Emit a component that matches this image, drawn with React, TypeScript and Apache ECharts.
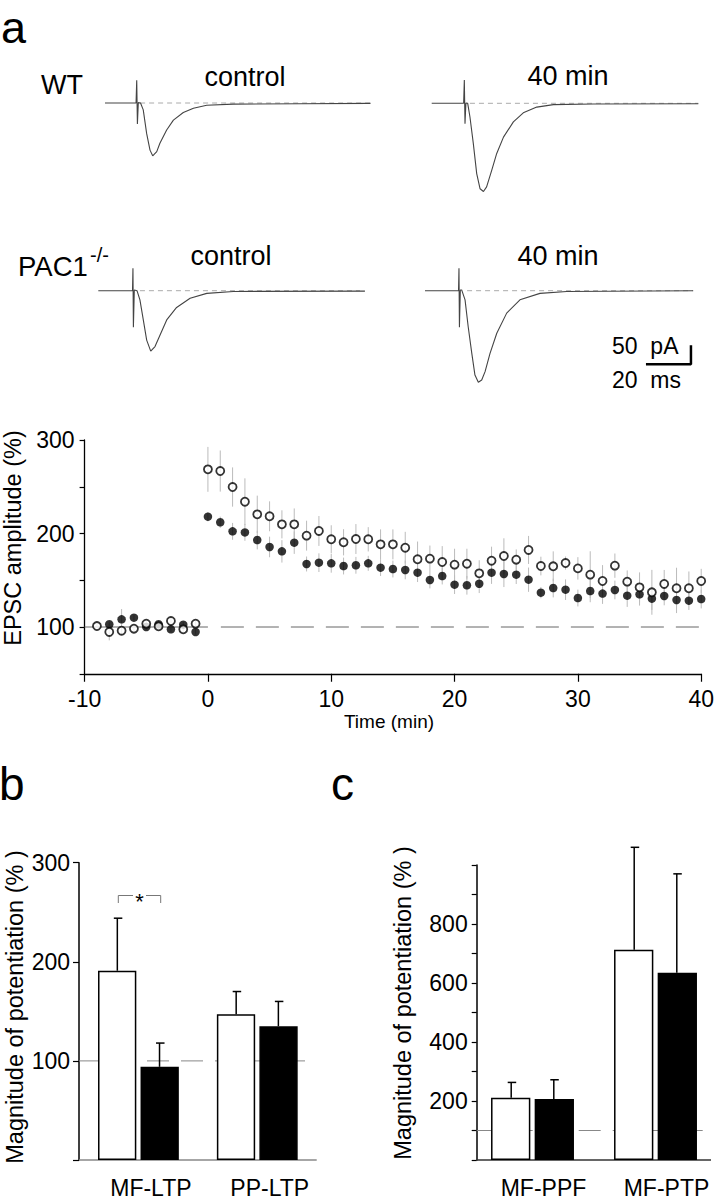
import React, { useEffect, useRef } from "react";
import * as echarts from "echarts";

// ---------- Panel a: example EPSC traces (time in ms, current in pA) ----------
const traceWtControl = [
  [0, 0], [13.8, 0], [14.1, 60], [14.4, -55], [14.8, 1], [15.8, 0], [17.0, -18], [18.5, -80],
  [20, -124], [21.2, -139], [23, -128], [24.4, -106], [27.4, -71], [30.4, -45], [34.8, -25],
  [39.3, -14], [45.2, -6], [57, -3], [86.7, -2], [118, -1],
];
const traceWt40 = [
  [0, 0], [14.2, 0], [14.5, 61], [14.8, -54], [15.2, 1], [16.0, 0], [17.0, -36], [18.5, -106],
  [20, -185], [21.5, -225], [23, -232], [24.4, -220], [26.7, -176], [28.9, -132], [31.9, -89],
  [36.3, -49], [40.7, -25], [46.7, -10], [54.1, -3.5], [71.9, -2], [118.5, -1],
];
const tracePacControl = [
  [0, 0], [15.2, 0], [15.4, 59], [15.6, -96], [16.0, 2], [17.2, 0], [18.5, -24], [20, -77],
  [21.5, -130], [23.3, -159], [25.2, -147], [27.4, -117], [30.4, -77], [34.8, -44], [40.8, -20],
  [48.2, -7], [60, -2], [118.5, -1],
];
const tracePac40 = [
  [0, 0], [14.9, 0], [15.1, 59], [15.3, -96], [15.7, 2], [16.3, 2], [17.8, -24], [19.2, -95],
  [20.8, -165], [22.2, -222], [23.7, -241], [25.2, -235], [26.7, -213], [28.9, -165], [31.9, -112],
  [36.3, -59], [42.2, -24], [51.1, -7], [63, -2], [119.2, 0],
];
const baselineWtControl = [[15.6, 0], [117.8, 0]];
const baselineWt40 = [[17, 0], [118.5, 0]];
const baselinePacControl = [[18.5, 0], [116.3, 0]];
const baselinePac40 = [[18.7, 0], [119, 0]];
const scaleBar = [[98.2, -193.7], [118.2, -193.7], [118.2, -143.7]]; // 20 ms, 50 pA

// ---------- Panel a: time course (min, % EPSC amplitude) ----------
const wtPreTimes = [-9, -8, -7, -6, -5, -4, -3, -2, -1];
const wtPre = [101, 94.7, 96, 98.2, 103.6, 100.7, 106.4, 97.5, 103.6];
const wtPreErr = [2, 9, 4, 3, 3, 3, 3, 3, 3];
const koPreTimes = [-8, -7, -6, -5, -4, -3, -2, -1];
const koPre = [102.9, 108.2, 110, 100, 102.9, 97.5, 102.5, 94.7];
const koPreErr = [3, 11, 3, 3, 3, 3, 3, 3];
const postTimes = Array.from({ length: 41 }, (_, i) => i);
const wtPost = [
  268.6, 266.8, 249.7, 234, 220.5, 218.4, 209.8, 209.8, 197.7, 202.7,
  193.8, 190.6, 194.1, 193.8, 188.4, 188.4, 184.8, 172.4, 173.1, 169.5,
  166.7, 167.7, 157.4, 170.9, 175.9, 172, 182.4, 165.2, 164.9, 168.4,
  162.7, 156, 149.2, 165.6, 148.5, 142.4, 137.1, 146, 141.4, 141.4, 149.2,
];
const wtPostErr = [
  24, 22, 21, 25, 20, 16, 15, 17, 16, 16,
  15, 14, 16, 13, 16, 16, 17, 19, 14, 17,
  17, 16, 14, 15, 19, 11, 15, 10, 16, 7,
  12, 25, 17, 13, 12, 16, 24, 15, 22, 18, 13,
];
const koPost = [
  218, 212, 202.3, 201.2, 193, 185.6, 180.9, 190.2, 167.4, 168.8,
  168.1, 165.2, 166, 168.1, 163.5, 162, 161, 158.1, 150.3, 154.5,
  145.3, 144.6, 146.3, 158.1, 156.7, 156, 150.6, 136.7, 141.7, 139.9,
  131, 138.5, 135.7, 139.6, 133.5, 134.9, 130.3, 133.2, 128.9, 128.2, 129.9,
];
const koPostErr = [
  5, 6, 9, 9, 10, 11, 12, 12, 8, 10,
  10, 9, 9, 8, 9, 9, 10, 10, 9, 9,
  10, 10, 10, 12, 14, 10, 13, 6, 10, 11,
  9, 12, 11, 10, 12, 12, 12, 10, 14, 10, 10,
];
const timeBaselineSolid = [[-10, 100], [0, 100]];
const timeBaselineDashed = [[1.05, 100], [40, 100]];

// ---------- Panel b ----------
const bCategories = ["MF-LTP", "PP-LTP"];
const bWt = [191, 147];
const bWtSem = [53, 23];
const bKo = [94, 135];
const bKoSem = [24, 25];

// ---------- Panel c ----------
const cCategories = ["MF-PPF", "MF-PTP"];
const cWt = [211, 713];
const cWtSem = [52, 347];
const cKo = [207, 635];
const cKoSem = [65, 335];

const FONT = "Liberation Sans";

// trace layout
const PX_MS = 2.25;
const PX_PA = 0.38;
const T_MAX = 120;
const PA_MIN = -260;
const PA_MAX = 80;
const traceOrigins = [
  [105, 103],
  [431.7, 103.3],
  [98.3, 290.7],
  [425, 290.7],
];

function txt(text: string, x: number, y: number, fontSize: number, extra: any = {}) {
  return {
    type: "text",
    x,
    y,
    rotation: extra.rotation || 0,
    style: {
      text,
      fontSize,
      fontFamily: FONT,
      fill: "#000",
      align: extra.align || "left",
      verticalAlign: "middle",
    },
  };
}

function makeOption() {
  const grids: any[] = [];
  const xAxes: any[] = [];
  const yAxes: any[] = [];
  const series: any[] = [];

  const traces = [traceWtControl, traceWt40, tracePacControl, tracePac40];
  const baselines = [baselineWtControl, baselineWt40, baselinePacControl, baselinePac40];
  traceOrigins.forEach(([x0, y0], i) => {
    grids.push({
      left: x0,
      top: y0 - PA_MAX * PX_PA,
      width: T_MAX * PX_MS,
      height: (PA_MAX - PA_MIN) * PX_PA,
    });
    xAxes.push({ type: "value", gridIndex: i, min: 0, max: T_MAX, show: false });
    yAxes.push({ type: "value", gridIndex: i, min: PA_MIN, max: PA_MAX, show: false });
    series.push({
      type: "line",
      xAxisIndex: i,
      yAxisIndex: i,
      data: baselines[i],
      showSymbol: false,
      symbol: "none",
      lineStyle: { color: "#aaa", width: 1, type: [5, 4] },
      z: 1,
    });
    series.push({
      type: "line",
      xAxisIndex: i,
      yAxisIndex: i,
      data: traces[i],
      showSymbol: false,
      symbol: "none",
      lineStyle: { color: "#444", width: 1.1 },
      z: 2,
    });
  });
  series.push({
    type: "line",
    xAxisIndex: 3,
    yAxisIndex: 3,
    data: scaleBar,
    symbol: "none",
    lineStyle: { color: "#000", width: 2.5 },
    z: 3,
  });

  // Time course grid (index 4)
  grids.push({ left: 84.6, top: 440, width: 623.4, height: 233.75 });
  xAxes.push({
    type: "value",
    gridIndex: 4,
    min: -10,
    max: 40,
    interval: 10,
    axisLine: { onZero: false, lineStyle: { color: "#000", width: 1.3 } },
    axisTick: { show: true, inside: false, length: 8, lineStyle: { color: "#000", width: 1.2 } },
    axisLabel: { color: "#000", fontSize: 23, fontFamily: FONT, margin: 14 },
    splitLine: { show: false },
  });
  yAxes.push({
    type: "value",
    gridIndex: 4,
    min: 50,
    max: 300,
    interval: 50,
    axisLine: { show: true, onZero: false, lineStyle: { color: "#000", width: 1.3 } },
    axisTick: { show: true, inside: false, length: 5, lineStyle: { color: "#000", width: 1.2 } },
    axisLabel: {
      color: "#000",
      fontSize: 23,
      fontFamily: FONT,
      margin: 10,
      formatter: (v: number) => (v % 100 === 0 ? String(v) : ""),
    },
    splitLine: { show: false },
  });
  series.push({
    type: "line",
    xAxisIndex: 4,
    yAxisIndex: 4,
    data: timeBaselineSolid,
    symbol: "none",
    lineStyle: { color: "#666", width: 1 },
    z: 1,
  });
  series.push({
    type: "line",
    xAxisIndex: 4,
    yAxisIndex: 4,
    data: timeBaselineDashed,
    symbol: "none",
    lineStyle: { color: "#666", width: 1, type: [23, 12] },
    z: 1,
  });
  const errRender = (params: any, api: any) => {
    const p1 = api.coord([api.value(0), api.value(1)]);
    const p2 = api.coord([api.value(0), api.value(2)]);
    return {
      type: "line",
      shape: { x1: p1[0], y1: p1[1], x2: p2[0], y2: p2[1] },
      style: { stroke: "#bbb", lineWidth: 1 },
    };
  };
  const wtTimes = [...wtPreTimes, ...postTimes];
  const wtVals = [...wtPre, ...wtPost];
  const wtErrs = [...wtPreErr, ...wtPostErr];
  const koTimes = [...koPreTimes, ...postTimes];
  const koVals = [...koPre, ...koPost];
  const koErrs = [...koPreErr, ...koPostErr];
  series.push({
    type: "custom",
    xAxisIndex: 4,
    yAxisIndex: 4,
    data: wtTimes.map((t, i) => [t, wtVals[i] - wtErrs[i], wtVals[i] + wtErrs[i]]),
    encode: { x: 0, y: [1, 2] },
    renderItem: errRender,
    z: 2,
  });
  series.push({
    type: "custom",
    xAxisIndex: 4,
    yAxisIndex: 4,
    data: koTimes.map((t, i) => [t, koVals[i] - koErrs[i], koVals[i] + koErrs[i]]),
    encode: { x: 0, y: [1, 2] },
    renderItem: errRender,
    z: 2,
  });
  series.push({
    type: "scatter",
    xAxisIndex: 4,
    yAxisIndex: 4,
    data: koTimes.map((t, i) => [t, koVals[i]]),
    symbol: "circle",
    symbolSize: 8.5,
    itemStyle: { color: "#000" },
    z: 3,
  });
  series.push({
    type: "scatter",
    xAxisIndex: 4,
    yAxisIndex: 4,
    data: wtTimes.map((t, i) => [t, wtVals[i]]),
    symbol: "circle",
    symbolSize: 8,
    itemStyle: { color: "#fff", borderColor: "#000", borderWidth: 1.8 },
    z: 4,
  });

  // Bar panels. inset = distance from grid edge to the drawn axis lines
  const barPanels = [
    {
      grid: { left: 79, top: 862.7, width: 237.7, height: 299 },
      inset: [0, 0],
      cats: bCategories, wt: bWt, wtSem: bWtSem, ko: bKo, koSem: bKoSem,
      max: 300, barWidth: 38.3, offset: 21.1, xLine: "#888",
      fmt: (v: number) => (v > 0 ? String(v) : ""),
      tickLen: 6,
    },
    {
      grid: { left: 471, top: 865, width: 248, height: 297.2 },
      inset: [5.7, 6],
      cats: cCategories, wt: cWt, wtSem: cWtSem, ko: cKo, koSem: cKoSem,
      max: 1000, barWidth: 39.3, offset: 21.3, xLine: "#333",
      fmt: (v: number) => (v % 200 === 0 && v > 0 && v < 1000 ? String(v) : ""),
      tickLen: 5,
    },
  ];
  barPanels.forEach((p, k) => {
    const gi = 5 + k;
    grids.push(p.grid);
    xAxes.push({
      type: "category",
      gridIndex: gi,
      data: p.cats,
      axisLine: { show: false },
      axisTick: { show: false },
      axisLabel: {
        color: "#000",
        fontSize: 23,
        fontFamily: FONT,
        margin: 16,
        padding: [0, 0, 0, k === 0 ? 25 : 22],
      },
    });
    yAxes.push({
      type: "value",
      gridIndex: gi,
      min: 0,
      max: p.max,
      interval: 100,
      offset: -p.inset[0],
      axisLine: { show: true, onZero: false, lineStyle: { color: "#000", width: 1.5 } },
      axisTick: { show: true, inside: false, length: p.tickLen, lineStyle: { color: "#000", width: 1.2 } },
      axisLabel: { color: "#000", fontSize: 23, fontFamily: FONT, margin: 9, formatter: p.fmt },
      splitLine: { show: false },
    });
    // reference line at 100 % and the horizontal base (0 %)
    series.push({
      type: "custom",
      xAxisIndex: gi,
      yAxisIndex: gi,
      data: [[0, 100, 0]],
      renderItem: (params: any, api: any) => {
        const y = api.coord([0, api.value(1)])[1];
        const y0 = api.coord([0, api.value(2)])[1];
        const cs = params.coordSys;
        const xa = cs.x + p.inset[0];
        const xb = cs.x + cs.width - p.inset[1];
        return {
          type: "group",
          children: [
            {
              type: "line",
              shape: { x1: xa, y1: y, x2: xb, y2: y },
              style: { stroke: "#888", lineWidth: 1, lineDash: [22, 12] },
            },
            {
              type: "line",
              shape: { x1: xa, y1: y0, x2: xb, y2: y0 },
              style: { stroke: p.xLine, lineWidth: 1.3 },
            },
          ],
        };
      },
      z: 1,
    });
    series.push({
      type: "bar",
      xAxisIndex: gi,
      yAxisIndex: gi,
      data: p.wt,
      barWidth: p.barWidth,
      barGap: "11%",
      itemStyle: { color: "#fff", borderColor: "#000", borderWidth: 1.5 },
      z: 3,
    });
    series.push({
      type: "bar",
      xAxisIndex: gi,
      yAxisIndex: gi,
      data: p.ko,
      barWidth: p.barWidth,
      barGap: "11%",
      itemStyle: { color: "#000", borderColor: "#000", borderWidth: 1.5 },
      z: 3,
    });
    const mkErr = (means: number[], sems: number[], sign: number) => ({
      type: "custom",
      xAxisIndex: gi,
      yAxisIndex: gi,
      data: means.map((m, i) => [i, m, m + sems[i]]),
      encode: { x: 0, y: [1, 2] },
      clip: false,
      renderItem: (params: any, api: any) => {
        const c = api.coord([api.value(0), api.value(1)]);
        const t = api.coord([api.value(0), api.value(2)]);
        const x = c[0] + sign * p.offset;
        return {
          type: "group",
          children: [
            { type: "line", shape: { x1: x, y1: c[1], x2: x, y2: t[1] }, style: { stroke: "#000", lineWidth: 1.5 } },
            { type: "line", shape: { x1: x - 3.5, y1: t[1], x2: x + 5, y2: t[1] }, style: { stroke: "#000", lineWidth: 1.5 } },
          ],
        };
      },
      z: 4,
    });
    series.push(mkErr(p.wt, p.wtSem, -1));
    series.push(mkErr(p.ko, p.koSem, 1));
  });

  const graphics: any[] = [
    txt("a", 1, 27, 45),
    txt("WT", 41, 85, 27),
    txt("control", 245, 77, 27, { align: "center" }),
    txt("40 min", 568, 75.5, 27, { align: "center" }),
    txt("PAC1", 18, 266.7, 27.5),
    txt("-/-", 90, 255, 20),
    txt("control", 231, 255.5, 27, { align: "center" }),
    txt("40 min", 558, 255.5, 27, { align: "center" }),
    txt("50\u00a0\u00a0pA", 612, 346, 23),
    txt("20\u00a0\u00a0ms", 612, 380, 23),
    txt("EPSC amplitude (%)", 13, 538, 23.5, { align: "center", rotation: Math.PI / 2 }),
    txt("Time (min)", 389, 721, 19, { align: "center" }),
    txt("b", -1, 784, 46),
    txt("c", 331, 784, 46),
    txt("Magnitude of potentiation (% )", 15, 1007, 23.5, { align: "center", rotation: Math.PI / 2 }),
    txt("Magnitude of potentiation (% )", 403, 1003, 23.5, { align: "center", rotation: Math.PI / 2 }),
    txt("*", 139.5, 901, 22, { align: "center" }),
    {
      type: "polyline",
      shape: { points: [[118.3, 903], [118.3, 895.5], [133, 895.5]] },
      style: { stroke: "#777", lineWidth: 1, fill: null },
    },
    {
      type: "polyline",
      shape: { points: [[146, 895.5], [160.7, 895.5], [160.7, 903]] },
      style: { stroke: "#777", lineWidth: 1, fill: null },
    },
  ];

  return {
    animation: false,
    backgroundColor: "#fff",
    textStyle: { fontFamily: FONT },
    grid: grids,
    xAxis: xAxes,
    yAxis: yAxes,
    series,
    graphic: graphics,
  };
}

export default function App() {
  const ref = useRef<HTMLDivElement>(null);
  useEffect(() => {
    const chart = echarts.init(ref.current!, null, { renderer: "svg" });
    chart.setOption(makeOption() as any);
    return () => chart.dispose();
  }, []);
  return (
    <div
      ref={ref}
      style={{ position: "absolute", left: 0, top: 0, width: 717, height: 1199, background: "#fff" }}
    />
  );
}
